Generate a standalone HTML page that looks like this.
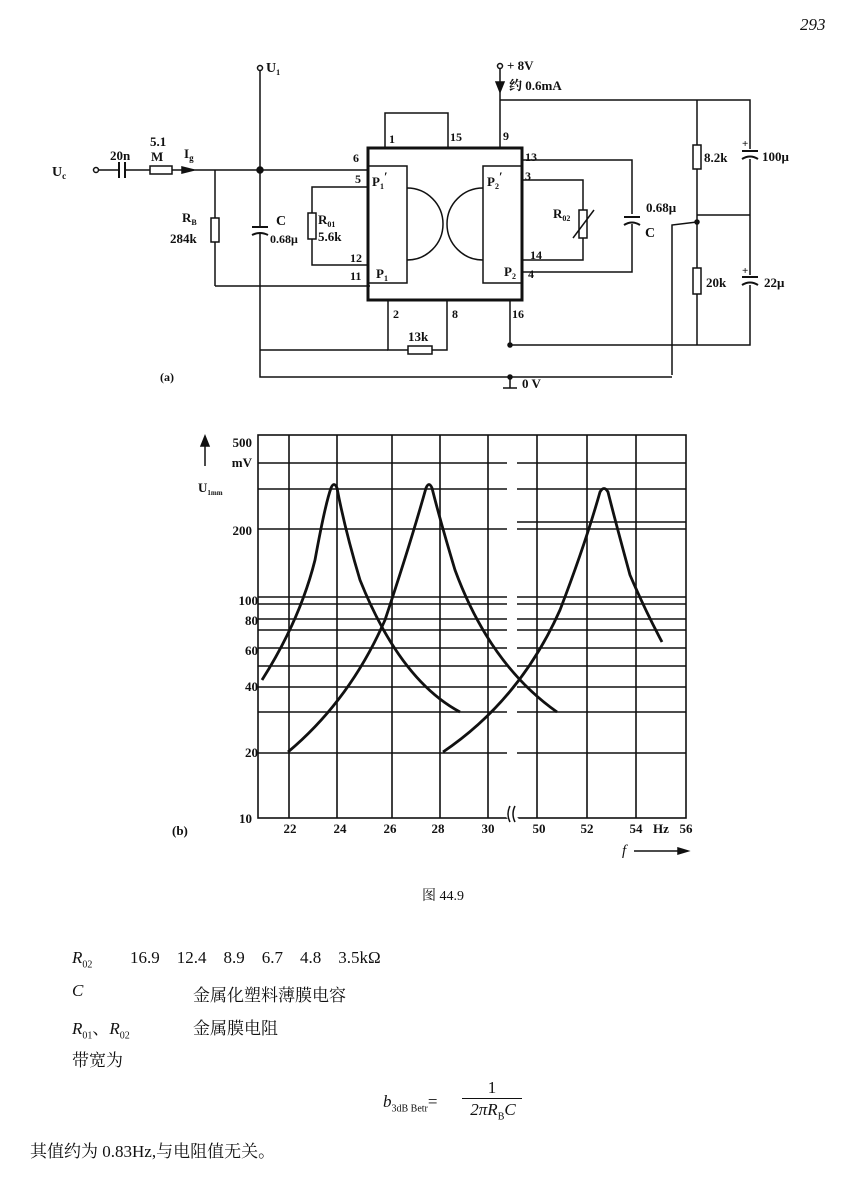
<!DOCTYPE html>
<html><head><meta charset="utf-8"><style>
body{margin:0;background:#fff;width:864px;height:1177px;overflow:hidden;font-family:"Liberation Serif","Noto Serif CJK SC",serif;color:#111}
svg{position:absolute;left:0;top:0}
.t{position:absolute;font-size:17px;white-space:nowrap}
</style></head><body>
<svg width="864" height="1177" viewBox="0 0 864 1177" font-family="Liberation Serif, Noto Serif CJK SC, serif" fill="none" stroke="#111" stroke-width="1.5">
<text x="800" y="30" font-size="17" font-style="italic" fill="#111" stroke="none">293</text>
<g font-weight="bold">
<!-- input -->
<text x="52" y="176" font-size="14" fill="#111" stroke="none">U<tspan font-size="9" dy="3">c</tspan></text>
<circle cx="96" cy="170" r="2.5"/>
<line x1="98" y1="170" x2="118" y2="170"/>
<line x1="119" y1="162" x2="119" y2="178" stroke-width="2"/><line x1="125" y1="162" x2="125" y2="178" stroke-width="2"/>
<text x="110" y="160" font-size="13" fill="#111" stroke="none">20n</text>
<line x1="126" y1="170" x2="150" y2="170"/>
<rect x="150" y="166" width="22" height="8"/>
<text x="150" y="146" font-size="13" fill="#111" stroke="none">5.1</text>
<text x="151" y="161" font-size="13" fill="#111" stroke="none">M</text>
<line x1="172" y1="170" x2="368" y2="170"/>
<path d="M182 167 L194 170 L182 173 Z" fill="#111"/>
<text x="184" y="158" font-size="13" fill="#111" stroke="none">I<tspan font-size="9" dy="3">g</tspan></text>
<circle cx="260" cy="170" r="3" fill="#111"/>
<!-- U1 -->
<circle cx="260" cy="68" r="2.5"/><line x1="260" y1="71" x2="260" y2="350"/>
<text x="266" y="72" font-size="14" fill="#111" stroke="none">U<tspan font-size="8" dy="3">1</tspan></text>
<!-- RB -->
<line x1="215" y1="170" x2="215" y2="286"/>
<rect x="211" y="218" width="8" height="24" fill="#fff"/>
<text x="182" y="222" font-size="13" fill="#111" stroke="none">R<tspan font-size="8" dy="3">B</tspan></text>
<text x="170" y="243" font-size="13" fill="#111" stroke="none">284k</text>
<line x1="215" y1="286" x2="370" y2="286"/>
<!-- C -->
<line x1="252" y1="230" x2="268" y2="230" stroke="#fff" stroke-width="8"/>
<line x1="252" y1="227" x2="268" y2="227" stroke-width="2"/>
<path d="M252 235 Q260 231 268 235" stroke-width="2"/>
<text x="276" y="225" font-size="14" fill="#111" stroke="none">C</text>
<text x="270" y="243" font-size="12" fill="#111" stroke="none">0.68μ</text>
<!-- R01 -->
<path d="M368 187 L312 187 L312 265 L368 265"/>
<rect x="308" y="213" width="8" height="26" fill="#fff"/>
<text x="318" y="224" font-size="13" fill="#111" stroke="none">R<tspan font-size="8" dy="3">01</tspan></text>
<text x="318" y="241" font-size="13" fill="#111" stroke="none">5.6k</text>
<!-- IC -->
<rect x="368" y="148" width="154" height="152" stroke-width="3"/>
<rect x="385" y="113" width="63" height="35"/>
<text x="389" y="143" font-size="12" fill="#111" stroke="none">1</text>
<text x="450" y="141" font-size="12" fill="#111" stroke="none">15</text>
<text x="503" y="140" font-size="12" fill="#111" stroke="none">9</text>
<text x="353" y="162" font-size="12" fill="#111" stroke="none">6</text>
<text x="355" y="183" font-size="12" fill="#111" stroke="none">5</text>
<text x="350" y="262" font-size="12" fill="#111" stroke="none">12</text>
<text x="350" y="280" font-size="12" fill="#111" stroke="none">11</text>
<text x="525" y="161" font-size="12" fill="#111" stroke="none">13</text>
<text x="525" y="180" font-size="12" fill="#111" stroke="none">3</text>
<text x="530" y="259" font-size="12" fill="#111" stroke="none">14</text>
<text x="528" y="278" font-size="12" fill="#111" stroke="none">4</text>
<text x="393" y="318" font-size="12" fill="#111" stroke="none">2</text>
<text x="452" y="318" font-size="12" fill="#111" stroke="none">8</text>
<text x="512" y="318" font-size="12" fill="#111" stroke="none">16</text>
<rect x="368" y="166" width="39" height="117"/>
<rect x="483" y="166" width="39" height="117"/>
<path d="M407 188 A35 35 0 0 1 407 260"/>
<path d="M483 188 A35 35 0 0 0 483 260"/>
<text x="372" y="186" font-size="13" fill="#111" stroke="none">P<tspan font-size="8" dy="3">1</tspan><tspan dy="-8">′</tspan></text>
<text x="376" y="278" font-size="13" fill="#111" stroke="none">P<tspan font-size="8" dy="3">1</tspan></text>
<text x="487" y="186" font-size="13" fill="#111" stroke="none">P<tspan font-size="8" dy="3">2</tspan><tspan dy="-8">′</tspan></text>
<text x="504" y="276" font-size="13" fill="#111" stroke="none">P<tspan font-size="8" dy="3">2</tspan></text>
<!-- right side -->
<path d="M522 160 L632 160 L632 272 L522 272"/>
<line x1="622" y1="219" x2="642" y2="219" stroke="#fff" stroke-width="10"/>
<line x1="624" y1="217" x2="640" y2="217" stroke-width="2"/><path d="M624 225 Q632 220 640 225" stroke-width="2"/>
<text x="645" y="237" font-size="14" fill="#111" stroke="none">C</text>
<path d="M522 180 L583 180 L583 260 L522 260"/>
<rect x="579" y="210" width="8" height="28" fill="#fff"/><line x1="573" y1="238" x2="594" y2="210"/>
<text x="553" y="218" font-size="13" fill="#111" stroke="none">R<tspan font-size="8" dy="3">02</tspan></text>
<!-- +8V -->
<circle cx="500" cy="66" r="2.5"/>
<text x="507" y="70" font-size="13" fill="#111" stroke="none">+ 8V</text>
<text x="509" y="90" font-size="13" fill="#111" stroke="none">约 0.6mA</text>
<line x1="500" y1="69" x2="500" y2="148"/>
<path d="M496 82 L500 92 L504 82 Z" fill="#111"/>
<path d="M500 100 L750 100 L750 345 L510 345 L510 300"/>
<line x1="697" y1="100" x2="697" y2="345"/>
<rect x="693" y="145" width="8" height="24" fill="#fff"/>
<text x="704" y="162" font-size="13" fill="#111" stroke="none">8.2k</text>
<line x1="740" y1="154" x2="760" y2="154" stroke="#fff" stroke-width="10"/>
<line x1="742" y1="151" x2="758" y2="151" stroke-width="2"/><path d="M742 159 Q750 154 758 159" stroke-width="2"/>
<text x="742" y="147" font-size="11" fill="#111" stroke="none">+</text>
<text x="762" y="161" font-size="13" fill="#111" stroke="none">100μ</text>
<line x1="697" y1="215" x2="750" y2="215"/>
<circle cx="697" cy="222" r="2" fill="#111"/>
<path d="M697 222 L672 225 L672 375"/>
<text x="646" y="212" font-size="13" fill="#111" stroke="none">0.68μ</text>
<rect x="693" y="268" width="8" height="26" fill="#fff"/>
<text x="706" y="287" font-size="13" fill="#111" stroke="none">20k</text>
<line x1="740" y1="280" x2="760" y2="280" stroke="#fff" stroke-width="10"/>
<line x1="742" y1="277" x2="758" y2="277" stroke-width="2"/><path d="M742 285 Q750 280 758 285" stroke-width="2"/>
<text x="742" y="274" font-size="11" fill="#111" stroke="none">+</text>
<text x="764" y="287" font-size="13" fill="#111" stroke="none">22μ</text>
<!-- bottom -->
<path d="M388 300 L388 350 L447 350 L447 300"/>
<line x1="260" y1="350" x2="388" y2="350"/>
<rect x="408" y="346" width="24" height="8" fill="#fff"/>
<text x="408" y="341" font-size="13" fill="#111" stroke="none">13k</text>
<path d="M260 350 L260 377 L672 377"/>
<line x1="510" y1="377" x2="510" y2="388"/><line x1="503" y1="388" x2="517" y2="388"/>
<circle cx="510" cy="345" r="2" fill="#111"/><circle cx="510" cy="377" r="2" fill="#111"/>
<text x="522" y="388" font-size="13" fill="#111" stroke="none">0 V</text>
<text x="160" y="381" font-size="12" fill="#111" stroke="none">(a)</text>
</g>
<!-- graph -->
<g stroke-width="1.6">
<rect x="258" y="435" width="428" height="383"/>
<path d="M289 435V818M337 435V818M392 435V818M440 435V818M488 435V818M537 435V818M587 435V818M636 435V818"/>
<path d="M258 463H507M517 463H686M258 489H507M517 489H686M258 529H507M517 529H686M517 522H686M258 597H507M517 597H686M258 604H507M517 604H686M258 619H507M517 619H686M258 630H507M517 630H686M258 648H507M517 648H686M258 666H507M517 666H686M258 687H507M517 687H686M258 712H507M517 712H686M258 753H507M517 753H686"/>
</g>
<line x1="505" y1="810" x2="520" y2="826" stroke="#fff" stroke-width="8"/>
<path d="M510 806 q-4 8 0 16 M515 806 q-4 8 0 16"/>
<g stroke-width="2.8">
<path d="M262 680 Q300 620 315 560 Q325 505 331 488 Q334 481 337 488 Q345 530 360 580 Q400 680 460 712"/>
<path d="M288 752 Q350 700 385 620 Q410 545 426 488 Q429 481 432 488 Q440 520 455 570 Q490 665 557 712"/>
<path d="M443 752 Q520 700 560 610 Q585 545 600 492 Q604 485 608 492 Q615 520 630 575 Q645 610 662 642"/>
</g>
<line x1="205" y1="440" x2="205" y2="466"/><path d="M201 446 L205 436 L209 446 Z" fill="#111"/>
<g font-size="13" fill="#111" stroke="none" text-anchor="end" font-weight="bold">
<text x="252" y="447">500</text><text x="252" y="467">mV</text>
<text x="252" y="535">200</text><text x="258" y="605">100</text><text x="258" y="625">80</text>
<text x="258" y="655">60</text><text x="258" y="691">40</text><text x="258" y="757">20</text><text x="252" y="823">10</text>
</g>
<text x="198" y="492" font-size="13" fill="#111" stroke="none" font-weight="bold">U<tspan font-size="7" dy="3">1mm</tspan></text>
<g font-size="13" fill="#111" stroke="none" text-anchor="middle" font-weight="bold">
<text x="290" y="833">22</text><text x="340" y="833">24</text><text x="390" y="833">26</text><text x="438" y="833">28</text><text x="488" y="833">30</text><text x="539" y="833">50</text><text x="587" y="833">52</text><text x="636" y="833">54</text><text x="661" y="833">Hz</text><text x="686" y="833">56</text>
</g>
<text x="172" y="835" font-size="13" fill="#111" stroke="none" font-weight="bold">(b)</text>
<text x="622" y="855" font-size="15" font-style="italic" fill="#111" stroke="none">f</text>
<line x1="634" y1="851" x2="682" y2="851"/><path d="M678 848 L688 851 L678 854 Z" fill="#111"/>
<text x="422" y="900" font-size="14" fill="#111" stroke="none">图 44.9</text>
</svg>
<div class="t" style="left:72px;top:948px"><i>R</i><sub style="font-size:10px">02</sub></div>
<div class="t" style="left:130px;top:948px">16.9&nbsp;&nbsp;&nbsp;&nbsp;12.4&nbsp;&nbsp;&nbsp;&nbsp;8.9&nbsp;&nbsp;&nbsp;&nbsp;6.7&nbsp;&nbsp;&nbsp;&nbsp;4.8&nbsp;&nbsp;&nbsp;&nbsp;3.5kΩ</div>
<div class="t" style="left:72px;top:981px"><i>C</i></div>
<div class="t" style="left:193px;top:981px">金属化塑料薄膜电容</div>
<div class="t" style="left:72px;top:1014px"><i>R</i><sub style="font-size:10px">01</sub>、<i>R</i><sub style="font-size:10px">02</sub></div>
<div class="t" style="left:193px;top:1014px">金属膜电阻</div>
<div class="t" style="left:72px;top:1046px">带宽为</div>
<div class="t" style="left:383px;top:1092px"><i>b</i><sub style="font-size:10px">3dB Betr</sub>=</div>
<div class="t" style="left:462px;top:1078px;width:60px;text-align:center;border-bottom:1px solid #111;line-height:20px">1</div>
<div class="t" style="left:462px;top:1100px;width:62px;text-align:center"><i>2πR</i><sub style="font-size:10px">B</sub><i>C</i></div>
<div class="t" style="left:30px;top:1137px">其值约为 0.83Hz,与电阻值无关。</div>
</body></html>
